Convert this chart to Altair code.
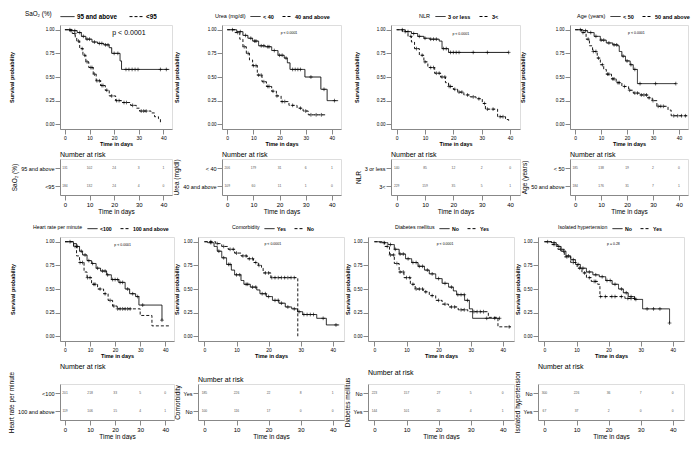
import altair as alt
import pandas as pd

FONT = "Liberation Sans"

# ---------------- data ----------------
legend_titles = ["SaO₂ (%)", "Urea (mg/dl)", "NLR", "Age (years)",
                 "Heart rate per minute", "Comorbidity", "Diabetes mellitus", "Isolated hypertension"]
group_labels = [["95 and above", "<95"], ["< 40", "40 and above"], ["3 or less", "3<"],
                ["< 50", "50 and above"], ["<100", "100 and above"], ["Yes", "No"],
                ["No", "Yes"], ["No", "Yes"]]
p_texts = ["p < 0.0001", "p < 0.0001", "p < 0.0001", "p < 0.0001",
           "p < 0.0001", "p < 0.0001", "p < 0.0001", "p = 0.28"]
risk_times = [0, 10, 20, 30, 40]

# SaO2
sao2_a_t = [0, 3, 5, 6.7, 8.5, 11, 13.3, 15.8, 18, 19, 22.4, 23, 42.4]
sao2_a_s = [1, 0.99, 0.97, 0.93, 0.90, 0.87, 0.855, 0.84, 0.81, 0.75, 0.67, 0.58, 0.58]
sao2_a_c = [2, 4, 6, 7.5, 9, 10, 12, 14, 15, 16.5, 17.5, 20, 21.5, 24.8, 26, 27.3, 28.5, 29.7, 38.8, 41.2]
sao2_b_t = [0, 1.8, 3, 4.2, 4.8, 6, 7.3, 8.5, 9.7, 11.5, 12.7, 14.5, 16.4, 18, 20.6, 23, 26.7, 29, 30.3, 35, 36.4, 38, 38.8]
sao2_b_s = [1, 0.99, 0.96, 0.92, 0.88, 0.80, 0.73, 0.66, 0.60, 0.53, 0.46, 0.41, 0.36, 0.30, 0.25, 0.23, 0.20, 0.17, 0.14, 0.12, 0.08, 0.06, 0.0]
sao2_b_c = [2.5, 4, 5.5, 7, 8, 9, 10.5, 11, 12, 13, 14, 15, 15.5, 17, 19, 21, 22, 24, 25, 27.5, 31, 32, 33]
sao2_risk = [[131, 102, 24, 3, 1], [184, 132, 24, 4, 0]]

# Urea
urea_a_t = [0, 3.6, 6, 7.9, 9.7, 12, 14.5, 17, 19.4, 21.8, 23, 24, 29.7, 35.8, 38.2, 42.4]
urea_a_s = [1, 0.98, 0.94, 0.91, 0.88, 0.83, 0.82, 0.78, 0.73, 0.70, 0.65, 0.58, 0.50, 0.37, 0.25, 0.25]
urea_a_c = [2, 5, 7, 9, 10.5, 11, 13, 14, 15.5, 16, 18, 20, 21, 22.5, 25, 26, 27, 28, 32, 37, 41]
urea_b_t = [0, 3, 4.8, 6, 7.3, 8.5, 9.7, 11.5, 13.3, 15, 17, 18.8, 20.6, 23.6, 26.7, 29, 31, 38.2]
urea_b_s = [1, 0.97, 0.90, 0.82, 0.75, 0.68, 0.62, 0.52, 0.45, 0.40, 0.35, 0.30, 0.24, 0.20, 0.17, 0.14, 0.10, 0.10]
urea_b_c = [4, 6.5, 8, 10, 11, 12, 13, 14, 15.5, 16, 17.5, 19, 21, 22, 25, 28, 30, 32, 34, 36]
urea_risk = [[206, 179, 31, 6, 1], [109, 60, 11, 1, 0]]

# NLR
nlr_a_t = [0, 3, 5.2, 7.4, 9.6, 11.7, 15, 16, 18.3, 39.5]
nlr_a_s = [1, 0.98, 0.96, 0.93, 0.91, 0.90, 0.88, 0.80, 0.76, 0.76]
nlr_a_c = [2, 4, 6, 8, 10, 12, 13, 14, 16.5, 17.5, 19, 20, 21, 22, 27, 32, 39.5]
nlr_b_t = [0, 2, 4, 5.2, 6.3, 8, 9.6, 11, 13.4, 15.5, 17.2, 18.3, 20, 21.5, 23.7, 25.9, 28, 30.2, 31.3, 35.6, 38.4, 39.5]
nlr_b_s = [1, 0.98, 0.93, 0.87, 0.80, 0.73, 0.66, 0.60, 0.54, 0.50, 0.44, 0.40, 0.37, 0.34, 0.31, 0.29, 0.27, 0.22, 0.16, 0.08, 0.05, 0.02]
nlr_b_c = [3, 5, 7, 9, 10, 12, 13, 14, 15, 16, 17, 18.5, 19, 20.5, 22, 23, 25, 27, 29, 31, 32, 34, 36.5, 37.5]
nlr_risk = [[140, 85, 12, 2, 0], [229, 159, 35, 5, 1]]

# Age
age_a_t = [0, 3, 4.8, 7.3, 9.7, 12, 14.5, 16.4, 17, 18, 19.4, 21.2, 22.4, 24, 38.8]
age_a_s = [1, 0.99, 0.97, 0.93, 0.89, 0.86, 0.84, 0.83, 0.77, 0.72, 0.67, 0.63, 0.58, 0.43, 0.43]
age_a_c = [2, 4, 6, 8, 10, 11, 13, 15, 16, 18.5, 20, 21.5, 23, 25, 31, 38.8]
age_b_t = [0, 2.4, 4.2, 5.5, 6.7, 8.5, 9.7, 11, 12, 14, 15.8, 18, 20.6, 22.4, 24.8, 27.9, 29.7, 31.5, 35.8, 37, 43.6]
age_b_s = [1, 0.97, 0.90, 0.83, 0.77, 0.70, 0.63, 0.58, 0.53, 0.48, 0.44, 0.40, 0.36, 0.33, 0.31, 0.28, 0.25, 0.19, 0.15, 0.09, 0.09]
age_b_c = [3, 5, 7, 8, 9, 10.5, 12.5, 13, 14.5, 15, 16.5, 17, 19, 21, 23, 24, 25.5, 26.5, 27.5, 28.5, 30, 32, 33, 34, 38, 39.5, 41, 42.5]
age_risk = [[185, 138, 19, 2, 0], [184, 176, 31, 7, 1]]

# Heart rate
hr_a_t = [0, 3.4, 4.6, 5.8, 7, 8.8, 10.6, 12.4, 14.2, 16.6, 18.5, 21.5, 24, 25.8, 28.2, 29.5, 38.7]
hr_a_s = [1, 0.98, 0.95, 0.90, 0.86, 0.80, 0.77, 0.72, 0.69, 0.65, 0.60, 0.57, 0.50, 0.45, 0.42, 0.33, 0.17]
hr_a_c = [2, 5, 6.5, 8, 9.5, 11, 13, 15, 16, 17, 19, 20, 21, 22, 23, 25, 27, 29, 31, 38.7]
hr_b_t = [0, 3.4, 4.6, 5.8, 7.6, 8.8, 10.6, 13, 15.4, 17.2, 19, 20.8, 30, 34.7, 42]
hr_b_s = [1, 0.95, 0.85, 0.78, 0.68, 0.62, 0.55, 0.50, 0.45, 0.38, 0.32, 0.29, 0.22, 0.11, 0.11]
hr_b_c = [4, 6, 7, 9, 10, 11.5, 12, 14, 16, 18, 19.5, 21, 22, 23, 24, 25, 26]
hr_risk = [[201, 218, 33, 5, 0], [119, 106, 15, 4, 1]]

# Comorbidity
com_a_t = [0, 1, 3, 4, 5.4, 6.9, 8.4, 9.4, 11.4, 12.3, 14.3, 16.3, 17.3, 19.3, 21.2, 23.2, 25.2, 27.2, 29, 30.6, 35, 38, 42]
com_a_s = [1, 0.99, 0.95, 0.90, 0.83, 0.76, 0.70, 0.65, 0.59, 0.55, 0.52, 0.49, 0.45, 0.42, 0.38, 0.35, 0.31, 0.29, 0.26, 0.23, 0.19, 0.12, 0.12]
com_a_c = [2, 4.5, 6, 7.5, 8, 10, 11, 13, 13.5, 15, 16, 18, 19, 20, 22, 23, 24, 26, 28, 29.5, 31, 32, 33, 34, 37, 41]
com_b_t = [0, 3.5, 5.4, 7.4, 9.4, 11.4, 13.3, 15.3, 16.8, 17.8, 18.3, 20.7, 29.1]
com_b_s = [1, 0.98, 0.95, 0.92, 0.88, 0.85, 0.82, 0.78, 0.75, 0.72, 0.67, 0.62, 0.0]
com_b_c = [2, 4, 6, 8, 9, 10, 12, 13, 14, 15, 16, 17, 19, 20, 21, 22, 23, 24, 25, 26, 27, 28]
com_risk = [[185, 226, 22, 8, 1], [100, 116, 17, 0, 0]]

# Diabetes
dm_a_t = [0, 1.7, 4.2, 6.2, 7.7, 9.7, 11.6, 13.6, 15.6, 17.1, 19.1, 21.1, 23.1, 24.6, 25.6, 28.1, 29.6, 30.6, 39]
dm_a_s = [1, 0.99, 0.97, 0.92, 0.87, 0.82, 0.78, 0.74, 0.70, 0.66, 0.61, 0.56, 0.52, 0.48, 0.44, 0.38, 0.29, 0.19, 0.19]
dm_a_c = [3, 5, 6.5, 8, 9, 10.5, 12, 13, 14, 15, 16.5, 18, 20, 22, 24, 26, 27, 28, 29, 35, 37.5, 39]
dm_b_t = [0, 3.2, 4.7, 6.2, 7.7, 9.2, 11.2, 12.7, 15.2, 17.1, 19.1, 21.1, 23.1, 26.1, 29.1, 35.5, 38.5, 42.5]
dm_b_s = [1, 0.95, 0.86, 0.77, 0.68, 0.62, 0.55, 0.50, 0.47, 0.43, 0.38, 0.34, 0.31, 0.28, 0.26, 0.20, 0.10, 0.10]
dm_b_c = [4, 5, 6, 7, 8, 9, 10, 11, 12, 13, 14, 15, 16, 18, 20, 22, 24, 25, 27, 28, 31, 32, 33, 34, 42]
dm_risk = [[223, 157, 27, 5, 0], [144, 101, 20, 4, 1]]

# Isolated hypertension
htn_a_t = [0, 2.2, 3.7, 5.2, 6.7, 8.2, 9.7, 11.2, 13.1, 15.1, 17.1, 19.1, 21.1, 23.1, 24.6, 26.1, 28.1, 30.6, 39]
htn_a_s = [1, 0.99, 0.95, 0.90, 0.85, 0.81, 0.76, 0.72, 0.68, 0.65, 0.63, 0.59, 0.55, 0.50, 0.46, 0.42, 0.39, 0.29, 0.14]
htn_a_c = [1, 3, 4.5, 6, 7.5, 9, 10.5, 12, 14, 16, 18, 19.5, 20.5, 22, 24, 25.5, 27, 28.5, 32, 34, 36, 39]
htn_b_t = [0, 2.2, 4.2, 6.2, 8.2, 10.2, 11.7, 13.1, 14.6, 16.6, 17.3, 25.1, 28.1]
htn_b_s = [1, 0.97, 0.92, 0.84, 0.78, 0.72, 0.67, 0.62, 0.58, 0.55, 0.42, 0.40, 0.40]
htn_b_c = [3, 5, 7, 9, 11, 12.5, 14, 15.5, 16, 17.5, 19, 21, 22, 24, 26, 27, 28.1]
htn_risk = [[300, 226, 36, 7, 0], [67, 37, 2, 0, 0]]

curves = [
    [(sao2_a_t, sao2_a_s, sao2_a_c), (sao2_b_t, sao2_b_s, sao2_b_c)],
    [(urea_a_t, urea_a_s, urea_a_c), (urea_b_t, urea_b_s, urea_b_c)],
    [(nlr_a_t, nlr_a_s, nlr_a_c), (nlr_b_t, nlr_b_s, nlr_b_c)],
    [(age_a_t, age_a_s, age_a_c), (age_b_t, age_b_s, age_b_c)],
    [(hr_a_t, hr_a_s, hr_a_c), (hr_b_t, hr_b_s, hr_b_c)],
    [(com_a_t, com_a_s, com_a_c), (com_b_t, com_b_s, com_b_c)],
    [(dm_a_t, dm_a_s, dm_a_c), (dm_b_t, dm_b_s, dm_b_c)],
    [(htn_a_t, htn_a_s, htn_a_c), (htn_b_t, htn_b_s, htn_b_c)],
]
risks = [sao2_risk, urea_risk, nlr_risk, age_risk, hr_risk, com_risk, dm_risk, htn_risk]

# ---------------- layout / style ----------------
plot_widths = [112, 119, 129, 118, 114, 146, 146, 146]
row_spacing = [50, 24]
y_title_pad = [31, 28, 17, 30, 30, 4, 3, 3]
legend_x = [-35, -7, 28, 7, -27, 34, 27, 20]
p_pos = [(26, 0.97), (23.6, 0.97), (22.6, 0.96), (23.6, 0.97),
         (23, 0.97), (21.3, 0.98), (22, 0.98), (21.5, 0.98)]
p_size = [7, 3.5, 3.5, 3.5, 3.5, 3.5, 3.5, 3.5]
legend_font = [6.3, 5.5, 5.5, 5.5, 5.2, 5.2, 5.2, 5.2]
legend_sym = [196, 100, 100, 100, 100, 100, 100, 100]
legend_gap = [10, 6, 6, 6, 6, 6, 6, 6]
legend_y = [-16, -14, -14, -14, -14, -14, -14, -14]
KM_H = 104
TAB_H = 36
X_DOM = [-2, 43.5]
X_TICKS = [0, 10, 20, 30, 40]


def step_value(ts, ss, c):
    v = ss[0]
    for t, s in zip(ts, ss):
        if t <= c:
            v = s
        else:
            break
    return v


def indep(ch):
    return ch.resolve_scale(strokeDash="independent", x="independent", y="independent") \
             .resolve_legend(strokeDash="independent")


def km_chart(i):
    groups = group_labels[i]
    gf = f"g{i}"
    line_rows, cens_rows = [], []
    for g, (ts, ss, cs) in zip(groups, curves[i]):
        for t, s in zip(ts, ss):
            line_rows.append({gf: g, "t": t, "s": s})
        for c in cs:
            cens_rows.append({gf: g, "t": c, "s": step_value(ts, ss, c)})
    xs = alt.Scale(domain=X_DOM, nice=False, zero=False)
    ys = alt.Scale(domain=[-0.05, 1.05], nice=False, zero=False)
    xenc = alt.X("t:Q", scale=xs, axis=alt.Axis(
        values=X_TICKS, title="Time in days", labelFontSize=5, titleFontSize=5.5,
        titleFontWeight="bold", titlePadding=1, labelPadding=1, grid=False,
        labelOverlap=False, labelFlush=False))
    yenc = alt.Y("s:Q", scale=ys, axis=alt.Axis(
        values=[0, 0.25, 0.5, 0.75, 1.0], format=".2f", title="Survival probability",
        labelFontSize=4.5, titleFontSize=5.5, titleFontWeight="bold",
        titlePadding=y_title_pad[i], labelPadding=1, grid=False, labelOverlap=False,
        labelFlush=False))
    dash = alt.StrokeDash(f"{gf}:N", scale=alt.Scale(domain=groups, range=[[1, 0], [3, 2]]),
                          legend=alt.Legend(
                              orient="none", legendX=legend_x[i], legendY=legend_y[i],
                              direction="horizontal", title=legend_titles[i], titleOrient="left",
                              symbolType="stroke", symbolSize=legend_sym[i], symbolStrokeWidth=1,
                              symbolStrokeColor="black", labelFontSize=legend_font[i],
                              labelFontWeight="bold", labelFont=FONT, titleFont=FONT,
                              titleFontSize=legend_font[i], titleFontWeight="normal",
                              columnPadding=legend_gap[i], labelOffset=2,
                              titlePadding=legend_gap[i] - 2, padding=0,
                              titleBaseline="middle", labelColor="black", titleColor="black"))
    lines = alt.Chart(pd.DataFrame(line_rows)).mark_line(
        interpolate="step-after", color="black", strokeWidth=0.9).encode(
        x=xenc, y=yenc, strokeDash=dash)
    cens = alt.Chart(pd.DataFrame(cens_rows)).mark_point(
        shape="M-1,0H1M0,-1V1", filled=False, size=14, strokeWidth=0.6, color="black",
        opacity=1).encode(x=xenc, y=yenc)
    ptxt = alt.Chart(pd.DataFrame({"lab": [p_texts[i]], "t": [p_pos[i][0]], "s": [p_pos[i][1]]})).mark_text(
        font=FONT, fontSize=p_size[i], color="black").encode(
        x=xenc, y=yenc, text="lab:N")
    return alt.layer(lines, cens, ptxt).properties(width=plot_widths[i], height=KM_H)


def risk_chart(i):
    groups = group_labels[i]
    gf = f"r{i}"
    rows = []
    for g, ns in zip(groups, risks[i]):
        for t, n in zip(risk_times, ns):
            rows.append({gf: g, "t": t, "n": str(n)})
    xs = alt.Scale(domain=X_DOM, nice=False, zero=False)
    return alt.Chart(pd.DataFrame(rows)).mark_text(
        font=FONT, fontSize=3.3, color="#555555").encode(
        x=alt.X("t:Q", scale=xs, axis=alt.Axis(
            values=X_TICKS, title="Time in days", labelFontSize=6, titleFontSize=6.5,
            titleFontWeight="normal", titlePadding=1, labelPadding=1, grid=False,
            labelOverlap=False, labelFlush=False)),
        y=alt.Y(f"{gf}:N", scale=alt.Scale(type="point", domain=groups, padding=0.5),
                axis=alt.Axis(title=legend_titles[i], labelFontSize=5.5, titleFontSize=6.5,
                              titleFontWeight="normal", labelPadding=1, titlePadding=3,
                              grid=False)),
        text="n:N",
    ).properties(width=plot_widths[i], height=TAB_H,
                 title=alt.TitleParams("Number at risk", anchor="start", frame="group",
                                       fontSize=7, fontWeight="normal", font=FONT,
                                       color="black", offset=1))


def row(charts, sp):
    return indep(alt.hconcat(*charts, spacing=sp, bounds="flush"))


blocks = []
for r in range(2):
    idx = range(4 * r, 4 * r + 4)
    km_row = row([km_chart(i) for i in idx], row_spacing[r])
    tab_row = row([risk_chart(i) for i in idx], row_spacing[r])
    blocks.append(indep(alt.vconcat(km_row, tab_row, spacing=3)))

chart = indep(alt.vconcat(*blocks, spacing=7)).properties(
    padding={"left": 0, "right": 0, "top": 0, "bottom": 0}
).configure_view(stroke="transparent", strokeWidth=0).configure_axis(
    grid=False, domainColor="black", tickColor="black", labelColor="black",
    titleColor="black", labelFont=FONT, titleFont=FONT, tickSize=2, domainWidth=0.8,
    tickWidth=0.8).configure(background="white")

chart.save("out.html", embed_options={"renderer": "svg", "actions": False})
